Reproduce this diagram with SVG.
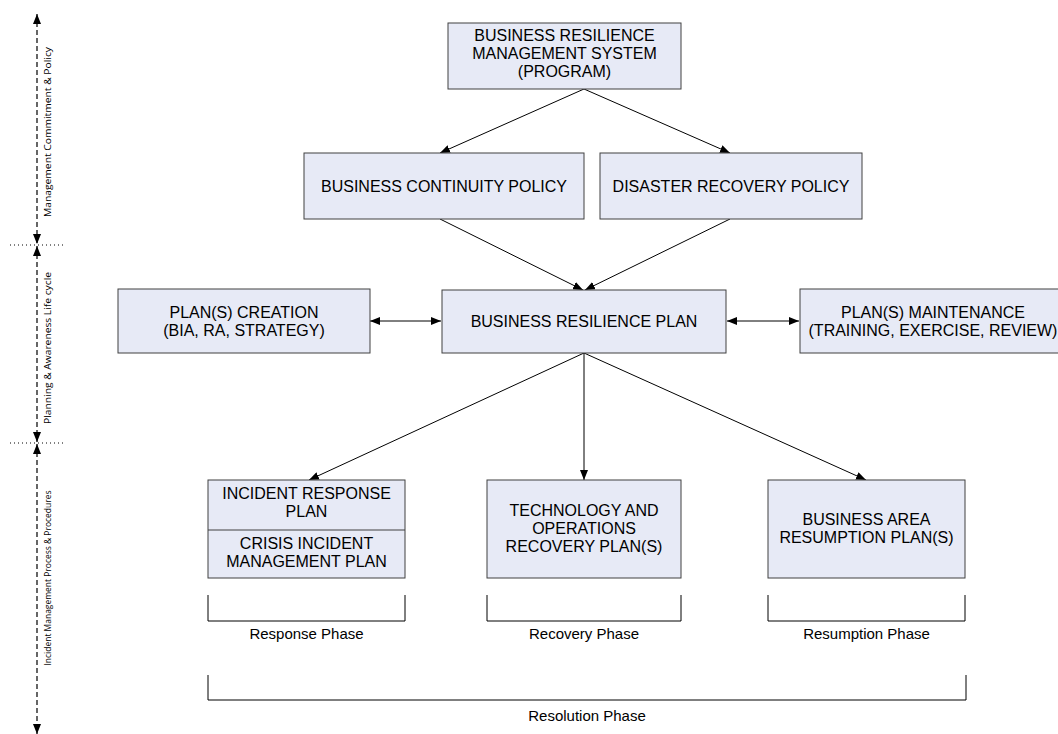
<svg xmlns="http://www.w3.org/2000/svg" width="1058" height="734" viewBox="0 0 1058 734">
<defs>
<marker id="ah" markerWidth="10" markerHeight="8" refX="10" refY="4" orient="auto" markerUnits="userSpaceOnUse"><path d="M0,0 L10,4 L0,8 Z" fill="#000"/></marker>
<marker id="ahs" markerWidth="10" markerHeight="8" refX="0" refY="4" orient="auto" markerUnits="userSpaceOnUse"><path d="M10,0 L0,4 L10,8 Z" fill="#000"/></marker>
</defs>
<style>
.box{fill:#e7eaf6;stroke:#404040;stroke-width:1}
.t{font-family:"Liberation Sans",Arial,sans-serif;font-size:16px;fill:#000;text-anchor:middle}
.p{font-family:"Liberation Sans",Arial,sans-serif;font-size:15px;fill:#000;text-anchor:middle}
.s{font-family:"Open Sans","Liberation Sans",sans-serif;font-size:9.5px;fill:#000;text-anchor:middle}
.c{stroke:#000;stroke-width:1;fill:none}
.ax{stroke:#000;stroke-width:1.2;stroke-dasharray:5,3;fill:none}
.dot{stroke:#000;stroke-width:1;stroke-dasharray:1,3;fill:none}
.br{stroke:#000;stroke-width:1;fill:none}
</style>
<rect width="1058" height="734" fill="#fff"/>
<g id="axis">
<line class="ax" x1="37" y1="14" x2="37" y2="244" marker-start="url(#ahs)" marker-end="url(#ah)"/>
<line class="ax" x1="37" y1="246" x2="37" y2="442" marker-start="url(#ahs)" marker-end="url(#ah)"/>
<line class="ax" x1="37" y1="444" x2="37" y2="734" marker-start="url(#ahs)" marker-end="url(#ah)"/>
<line class="dot" x1="10" y1="245" x2="66" y2="245"/>
<line class="dot" x1="10" y1="443" x2="66" y2="443"/>
<text class="s" transform="translate(51,132) rotate(-90)" textLength="170" lengthAdjust="spacingAndGlyphs">Management Commitment &amp; Policy</text>
<text class="s" transform="translate(51,348) rotate(-90)" textLength="152" lengthAdjust="spacingAndGlyphs">Planning &amp; Awareness Life cycle</text>
<text class="s" transform="translate(51,578) rotate(-90)" textLength="175" lengthAdjust="spacingAndGlyphs">Incident Management Process &amp; Procedures</text>
</g>
<g id="connectors">
<line class="c" x1="584" y1="89" x2="440" y2="153" marker-end="url(#ah)"/>
<line class="c" x1="584" y1="89" x2="730" y2="153" marker-end="url(#ah)"/>
<line class="c" x1="440" y1="219" x2="583" y2="290" marker-end="url(#ah)"/>
<line class="c" x1="730" y1="219" x2="585" y2="290" marker-end="url(#ah)"/>
<line class="c" x1="370" y1="321" x2="441" y2="321" stroke-width="1.5" marker-start="url(#ahs)" marker-end="url(#ah)"/>
<line class="c" x1="727" y1="321" x2="799" y2="321" marker-start="url(#ahs)" marker-end="url(#ah)"/>
<line class="c" x1="584" y1="353" x2="309" y2="480" marker-end="url(#ah)"/>
<line class="c" x1="584" y1="353" x2="584" y2="480" marker-end="url(#ah)"/>
<line class="c" x1="584" y1="353" x2="866" y2="480" marker-end="url(#ah)"/>
</g>
<g id="n-brms">
<rect class="box" x="448" y="23" width="233" height="66"/>
<text class="t" x="564.5" y="41">BUSINESS RESILIENCE</text>
<text class="t" x="564.5" y="59">MANAGEMENT SYSTEM</text>
<text class="t" x="564.5" y="77">(PROGRAM)</text>
</g>
<g id="n-bcp">
<rect class="box" x="304" y="153" width="280" height="66"/>
<text class="t" x="444" y="192">BUSINESS CONTINUITY POLICY</text>
</g>
<g id="n-drp">
<rect class="box" x="600" y="153" width="262" height="66"/>
<text class="t" x="731" y="192">DISASTER RECOVERY POLICY</text>
</g>
<g id="n-create">
<rect class="box" x="118" y="289" width="252" height="64"/>
<text class="t" x="244" y="318">PLAN(S) CREATION</text>
<text class="t" x="244" y="336">(BIA, RA, STRATEGY)</text>
</g>
<g id="n-brp">
<rect class="box" x="442" y="290" width="284" height="63"/>
<text class="t" x="584" y="327">BUSINESS RESILIENCE PLAN</text>
</g>
<g id="n-maint">
<rect class="box" x="800" y="289" width="262" height="64"/>
<text class="t" x="933" y="318">PLAN(S) MAINTENANCE</text>
<text class="t" x="933" y="336">(TRAINING, EXERCISE, REVIEW)</text>
</g>
<g id="n-incident">
<rect class="box" x="208" y="480" width="197" height="98"/>
<line x1="208" y1="530" x2="405" y2="530" stroke="#404040"/>
<text class="t" x="306.5" y="499">INCIDENT RESPONSE</text>
<text class="t" x="306.5" y="517">PLAN</text>
<text class="t" x="306.5" y="549">CRISIS INCIDENT</text>
<text class="t" x="306.5" y="567">MANAGEMENT PLAN</text>
</g>
<g id="n-tech">
<rect class="box" x="487" y="480" width="194" height="98"/>
<text class="t" x="584" y="516">TECHNOLOGY AND</text>
<text class="t" x="584" y="534">OPERATIONS</text>
<text class="t" x="584" y="552">RECOVERY PLAN(S)</text>
</g>
<g id="n-resume">
<rect class="box" x="768" y="480" width="197" height="98"/>
<text class="t" x="866.5" y="525">BUSINESS AREA</text>
<text class="t" x="866.5" y="543">RESUMPTION PLAN(S)</text>
</g>
<g id="phases">
<path class="br" d="M208,595 V621 H405 V595"/>
<text class="p" x="306.5" y="639">Response Phase</text>
<path class="br" d="M487,595 V621 H681 V595"/>
<text class="p" x="584" y="639">Recovery Phase</text>
<path class="br" d="M768,595 V621 H965 V595"/>
<text class="p" x="866.5" y="639">Resumption Phase</text>
<path class="br" d="M208,675 V700 H966 V675"/>
<text class="p" x="587" y="721">Resolution Phase</text>
</g>
</svg>
